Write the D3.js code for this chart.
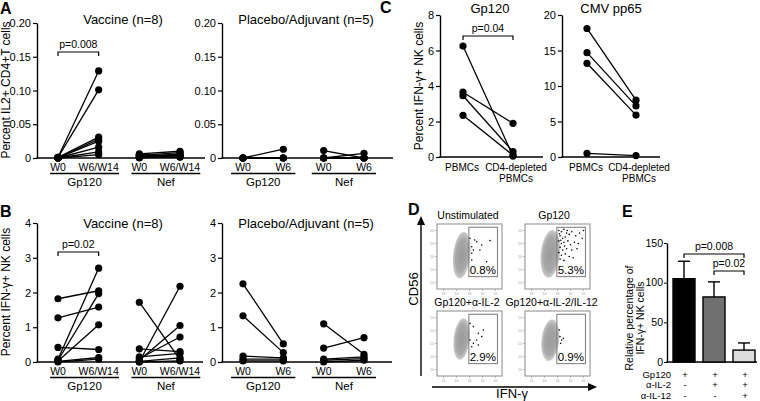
<!DOCTYPE html>
<html><head><meta charset="utf-8">
<script src="https://cdn.jsdelivr.net/npm/d3@7"></script>
<style>
body{margin:0;background:#fff;}
svg{display:block;font-family:"Liberation Sans",Arial,Helvetica,sans-serif;}
</style></head><body>
<svg id="c" width="760" height="401"></svg>
<script>
// ---------------- DATA ----------------
// Panel A (Percent IL2+ CD4+ T cells)
const pairKeys = ["Gp120-W0","Gp120-W6","Nef-W0","Nef-W6"];
const aVacLabels = ["W0","W6/W14","W0","W6/W14"];
const plLabels = ["W0","W6","W0","W6"];
const groupNames = ["Gp120","Nef"];
const aTicks = [0,0.05,0.10,0.15,0.20];
const aVacGpW0 = [0.001,0.001,0.001,0.000,0.000,0.000,0.000,0.000];
const aVacGpW6 = [0.129,0.101,0.031,0.028,0.025,0.016,0.009,0.005];
const aVacNefW0 = [0.006,0.005,0.004,0.003,0.002,0.001,0.001,0.000];
const aVacNefW6 = [0.010,0.003,0.008,0.005,0.001,0.006,0.002,0.004];
const aPlaGpW0 = [0,0,0,0,0];
const aPlaGpW6 = [0.013,0,0,0,0];
const aPlaNefW0 = [0.011,0,0,0,0];
const aPlaNefW6 = [0,0.007,0,0,0];
// Panel B (Percent IFN-g+ NK cells)
const bTicks = [0,1,2,3,4];
const bVacGpW0 = [1.82,1.27,0.42,0.08,0.05,0.03,0.02,0.00];
const bVacGpW6 = [2.05,1.58,0.36,2.70,1.97,1.07,0.13,0.08];
const bVacNefW0 = [1.72,0.00,0.05,0.10,0.38,0.15,0.02,0.00];
const bVacNefW6 = [0.07,2.18,1.05,0.72,0.30,0.25,0.12,0.03];
const bPlaGpW0 = [2.25,1.33,0.17,0.08,0.03];
const bPlaGpW6 = [0.52,0.27,0.12,0.08,0.03];
const bPlaNefW0 = [1.10,0.40,0.08,0.05,0.00];
const bPlaNefW6 = [0.22,0.70,0.15,0.10,0.05];
// Panel C
const cKeys = ["PBMCs","CD4-depleted"];
const cLabels = [["PBMCs"],["CD4-depleted","PBMCs"]];
const cGpTicks = [0,2,4,6,8];
const cCmvTicks = [0,5,10,15,20];
const cGpPB = [6.25,3.65,3.45,2.35];
const cGpCD4 = [0.05,1.90,0.30,0.10];
const cCmvPB = [18.1,14.7,13.2,0.5];
const cCmvCD4 = [8.0,7.2,5.9,0.2];
// Panel D (flow plots, log decades 0-5)
const dTitles = ["Unstimulated","Gp120","Gp120+\u03b1-IL-2","Gp120+\u03b1-IL-2/IL-12"];
const dPercents = ["0.8%","5.3%","2.9%","0.9%"];
const dCloudX = [1.9,1.95,1.9,1.95];
const dCloudY = [2.6,2.7,2.85,2.75];
const dCloudRx = [0.66,0.74,0.62,0.68];
const dCloudRy = [1.8,1.85,1.6,1.6];
const dGate = [2.45,4.65,0.95,4.75];
const dEvents = [
 [[2.54,3.9],[2.67,3.25],[2.8,3.0],[2.67,2.75],[3.05,3.64],[3.44,3.38],[4.08,3.72],[3.3,3.0],[2.67,2.23],[3.82,2.1],[2.9,3.77]],
 [[2.6,4.5],[2.8,4.4],[3.0,4.6],[3.2,4.3],[2.7,4.1],[2.9,3.9],[3.1,4.0],[3.4,4.2],[3.6,4.4],[3.9,4.1],[4.2,4.3],[4.4,3.9],[2.6,3.7],[2.8,3.5],[3.0,3.6],[3.3,3.7],[3.5,3.4],[3.8,3.6],[4.1,3.5],[2.7,3.2],[2.9,3.0],[3.2,3.1],[3.6,3.0],[4.0,3.1],[2.6,2.8],[2.8,2.6],[3.1,2.7],[3.4,2.5],[2.7,2.3],[3.0,2.2],[3.7,2.4],[2.65,4.25],[3.25,4.5],[2.75,3.75],[3.05,3.3],[4.5,4.5]],
 [[2.54,4.05],[2.8,3.8],[3.18,3.28],[2.54,2.77],[2.8,2.51],[3.05,2.77],[3.44,3.03],[3.18,2.38],[2.67,2.25],[3.56,3.54]],
 [[2.69,3.03],[2.82,2.77],[2.74,2.51],[2.95,2.9],[2.64,3.54]]
];
// Panel E
const eTicks = [0,50,100,150];
const eMeans = [105,82,15];
const eErr = [22,19,9];
const eRowLabels = ["Gp120","\u03b1-IL-2","\u03b1-IL-12"];
const eSigns = [["+","+","+"],["-","+","+"],["-","-","+"]];

// ---------------- DRAW ----------------
const svg = d3.select("#c");
const FONT = '"Liberation Sans",Arial,Helvetica,sans-serif';

const defs = svg.append("defs");
const grad = defs.append("radialGradient").attr("id","cloud");
grad.append("stop").attr("offset","0%").attr("stop-color","#9a9a9a");
grad.append("stop").attr("offset","70%").attr("stop-color","#a8a8a8");
grad.append("stop").attr("offset","100%").attr("stop-color","#cdcdcd");

function txt(x,y,str,o={}){
  const t = svg.append("text").attr("x",x).attr("y",y).text(str)
    .attr("font-size",o.size||11).attr("text-anchor",o.anchor||"middle")
    .attr("font-weight",o.weight||"normal").attr("fill",o.fill||"#000");
  if(o.rotate) t.attr("transform",`rotate(-90,${x},${y})`);
  return t;
}
function bracket(x1,x2,y,label){
  svg.append("path").attr("d",`M${x1},${y+4}V${y}H${x2}V${y+4}`)
    .attr("fill","none").attr("stroke","#000").attr("stroke-width",1.2);
  txt((x1+x2)/2,y-4,label,{size:10.5});
}

function paired(cfg){
  const y = d3.scaleLinear().domain([0,cfg.yMax]).range([cfg.yBot,cfg.yTop]);
  const x = d3.scalePoint().domain(cfg.keys).range(cfg.xRange);
  const g = svg.append("g");
  const ax = g.append("g").attr("transform",`translate(${cfg.axisX},0)`)
    .call(d3.axisLeft(y).tickValues(cfg.ticks).tickFormat(cfg.fmt).tickSize(4).tickPadding(2).tickSizeOuter(0));
  ax.attr("font-family",FONT).attr("font-size",11);
  ax.select(".domain").attr("stroke-width",1.4);
  ax.selectAll(".tick line").attr("stroke-width",1.2);
  g.append("line").attr("x1",cfg.axisX-0.7).attr("x2",cfg.xEnd).attr("y1",cfg.yBot).attr("y2",cfg.yBot)
    .attr("stroke","#000").attr("stroke-width",1.4);
  cfg.pairs.forEach(p=>{
    p.a.forEach((v,i)=>{
      g.append("line").attr("x1",x(p.from)).attr("y1",y(v)).attr("x2",x(p.to)).attr("y2",y(p.b[i]))
        .attr("stroke","#000").attr("stroke-width",1.3);
    });
  });
  cfg.pairs.forEach(p=>{
    g.selectAll(null).data(p.a).enter().append("circle").attr("cx",x(p.from)).attr("cy",d=>y(d)).attr("r",3.6);
    g.selectAll(null).data(p.b).enter().append("circle").attr("cx",x(p.to)).attr("cy",d=>y(d)).attr("r",3.6);
  });
  const labs = [];
  if(cfg.catLabels){
    cfg.keys.forEach((k,i)=>{
      const lab = cfg.catLabels[i];
      if(Array.isArray(lab)){
        lab.forEach((l,j)=>txt(x(k)+(cfg.labShift?cfg.labShift[i]:0),cfg.yBot+cfg.labDy+j*10.5,l,{size:10}));
      } else labs.push(txt(x(k),cfg.yBot+cfg.labDy,lab,{size:10.5}));
    });
  }
  if(cfg.groups){
    cfg.groups.forEach((gn,gi)=>{
      const b1 = labs[gi*2].node().getBBox(), b2 = labs[gi*2+1].node().getBBox();
      const x1 = b1.x - cfg.gPad, x2 = b2.x + b2.width + cfg.gPad;
      svg.append("line").attr("x1",x1).attr("x2",x2).attr("y1",cfg.yBot+15.5).attr("y2",cfg.yBot+15.5)
        .attr("stroke","#000").attr("stroke-width",1.3);
      txt((x1+x2)/2,cfg.yBot+28,gn,{size:11.5});
    });
  }
  if(cfg.title) txt(cfg.titleX,cfg.titleY,cfg.title,{size:13});
  return {x,y};
}

const fmtA = d=> d===0?"0":d3.format(".2f")(d);
const fmtI = d3.format("d");

// Panel A
const aV = paired({axisX:37,xEnd:205,yTop:23,yBot:158,yMax:0.2,ticks:aTicks,fmt:fmtA,keys:pairKeys,xRange:[58,180],
  pairs:[{from:"Gp120-W0",to:"Gp120-W6",a:aVacGpW0,b:aVacGpW6},{from:"Nef-W0",to:"Nef-W6",a:aVacNefW0,b:aVacNefW6}],
  catLabels:aVacLabels,labDy:13,groups:groupNames,gPad:0,title:"Vaccine (n=8)",titleX:123,titleY:24});
bracket(aV.x("Gp120-W0"),aV.x("Gp120-W6"),52,"p=0.008");
paired({axisX:222,xEnd:393,yTop:23,yBot:158,yMax:0.2,ticks:aTicks,fmt:fmtA,keys:pairKeys,xRange:[243,364],
  pairs:[{from:"Gp120-W0",to:"Gp120-W6",a:aPlaGpW0,b:aPlaGpW6},{from:"Nef-W0",to:"Nef-W6",a:aPlaNefW0,b:aPlaNefW6}],
  catLabels:plLabels,labDy:13,groups:groupNames,gPad:4,title:"Placebo/Adjuvant (n=5)",titleX:306,titleY:24});
txt(10,90,"Percent IL2+ CD4+T cells",{size:12,rotate:true});
txt(0,14,"A",{size:16,weight:"bold",anchor:"start"});

// Panel B
const bV = paired({axisX:37,xEnd:203,yTop:223,yBot:362,yMax:4,ticks:bTicks,fmt:fmtI,keys:pairKeys,xRange:[58,180],
  pairs:[{from:"Gp120-W0",to:"Gp120-W6",a:bVacGpW0,b:bVacGpW6},{from:"Nef-W0",to:"Nef-W6",a:bVacNefW0,b:bVacNefW6}],
  catLabels:aVacLabels,labDy:12.5,groups:groupNames,gPad:0,title:"Vaccine (n=8)",titleX:123,titleY:228});
bracket(bV.x("Gp120-W0"),bV.x("Gp120-W6"),252,"p=0.02");
paired({axisX:222,xEnd:392,yTop:223,yBot:362,yMax:4,ticks:bTicks,fmt:fmtI,keys:pairKeys,xRange:[243,364],
  pairs:[{from:"Gp120-W0",to:"Gp120-W6",a:bPlaGpW0,b:bPlaGpW6},{from:"Nef-W0",to:"Nef-W6",a:bPlaNefW0,b:bPlaNefW6}],
  catLabels:plLabels,labDy:12.5,groups:groupNames,gPad:4,title:"Placebo/Adjuvant (n=5)",titleX:306,titleY:228});
txt(10,292,"Percent IFN-\u03b3+ NK cells",{size:12,rotate:true});
txt(0,217,"B",{size:16,weight:"bold",anchor:"start"});

// Panel C
const cG = paired({axisX:440,xEnd:543,yTop:15,yBot:157,yMax:8,ticks:cGpTicks,fmt:fmtI,keys:cKeys,xRange:[463,513],
  pairs:[{from:"PBMCs",to:"CD4-depleted",a:cGpPB,b:cGpCD4}],catLabels:cLabels,labDy:14,labShift:[-1,3],
  title:"Gp120",titleX:490,titleY:12.5});
bracket(cG.x("PBMCs"),cG.x("CD4-depleted"),36,"p=0.04");
paired({axisX:562,xEnd:660,yTop:15,yBot:157,yMax:20,ticks:cCmvTicks,fmt:fmtI,keys:cKeys,xRange:[587,636],
  pairs:[{from:"PBMCs",to:"CD4-depleted",a:cCmvPB,b:cCmvCD4}],catLabels:cLabels,labDy:14,labShift:[-1,3],
  title:"CMV pp65",titleX:611,titleY:12.5});
txt(423,86,"Percent IFN-\u03b3+ NK cells",{size:12,rotate:true});
txt(380,13,"C",{size:16,weight:"bold",anchor:"start"});

// Panel D
const boxes = [[437,224],[525,224],[437,311],[525,311]];
const titleShift = [-1.5,-3.5,-2.5,-6];
const BW = 65;
boxes.forEach((b,i)=>{
  const fx = d3.scaleLinear().domain([0,5]).range([b[0],b[0]+BW]);
  const fy = d3.scaleLinear().domain([0,5]).range([b[1]+BW,b[1]]);
  const g = svg.append("g");
  g.append("rect").attr("x",b[0]).attr("y",b[1]).attr("width",BW).attr("height",BW)
    .attr("fill","none").attr("stroke","#8a8a8a").attr("stroke-width",1);
  [0.5,1.5,2.5,3.5,4.5].forEach(t=>{
    g.append("line").attr("x1",fx(t)).attr("x2",fx(t)).attr("y1",b[1]+BW).attr("y2",b[1]+BW+2).attr("stroke","#999").attr("stroke-width",0.7);
    g.append("line").attr("y1",fy(t)).attr("y2",fy(t)).attr("x1",b[0]).attr("x2",b[0]-2).attr("stroke","#999").attr("stroke-width",0.7);
    g.append("text").attr("x",fx(t)).attr("y",b[1]+BW+6).attr("font-size",3.5).attr("fill","#999").attr("text-anchor","middle").text("10");
    g.append("text").attr("x",b[0]-3).attr("y",fy(t)+1).attr("font-size",3.5).attr("fill","#999").attr("text-anchor","end").text("10");
  });
  const cx=fx(dCloudX[i]), cy=fy(dCloudY[i]);
  const rx=fx(dCloudRx[i])-fx(0), ry=fy(0)-fy(dCloudRy[i]);
  g.append("ellipse").attr("cx",cx).attr("cy",cy).attr("rx",rx).attr("ry",ry)
    .attr("fill","url(#cloud)").attr("transform",`rotate(6,${cx},${cy})`);
  g.append("rect").attr("x",fx(dGate[0])).attr("y",fy(dGate[3])).attr("width",fx(dGate[1])-fx(dGate[0]))
    .attr("height",fy(dGate[2])-fy(dGate[3])).attr("fill","none").attr("stroke","#7a7a7a").attr("stroke-width",1);
  g.selectAll(null).data(dEvents[i]).enter().append("circle")
    .attr("cx",d=>fx(d[0])).attr("cy",d=>fy(d[1])).attr("r",0.8).attr("fill","#000");
  txt(fx(dGate[1])-1.5,fy(dGate[2])-2.5,dPercents[i],{size:11.5,anchor:"end"});
  txt(b[0]+BW/2+titleShift[i],b[1]-5.5,dTitles[i],{size:10.5});
});
svg.append("line").attr("x1",421).attr("x2",421).attr("y1",376).attr("y2",222).attr("stroke","#000").attr("stroke-width",1.4);
svg.append("path").attr("d","M417,225L421,216L425,225Z").attr("fill","#000");
svg.append("line").attr("x1",432).attr("x2",590).attr("y1",387).attr("y2",387).attr("stroke","#000").attr("stroke-width",1.4);
svg.append("path").attr("d","M588,383L597,387L588,391Z").attr("fill","#000");
txt(418,289,"CD56",{size:13,rotate:true});
txt(512,398,"IFN-\u03b3",{size:13});
txt(408,215,"D",{size:16,weight:"bold",anchor:"start"});

// Panel E
const ey = d3.scaleLinear().domain([0,150]).range([362,243]);
const ex = d3.scalePoint().domain([0,1,2]).range([684,744]);
const eFill = ["#000","#707070","#dcdcdc"];
const eg = svg.append("g");
const eax = eg.append("g").attr("transform","translate(667,0)")
  .call(d3.axisLeft(ey).tickValues(eTicks).tickSize(3).tickPadding(1).tickSizeOuter(0));
eax.attr("font-family",FONT).attr("font-size",10.5);
eax.select(".domain").attr("stroke-width",1.4);
eax.selectAll(".tick text").attr("dy","0.3em");
eg.append("line").attr("x1",666.3).attr("x2",757).attr("y1",362).attr("y2",362).attr("stroke","#000").attr("stroke-width",1.4);
eMeans.forEach((m,i)=>{
  const cx = ex(i);
  eg.append("line").attr("x1",cx).attr("x2",cx).attr("y1",ey(m)).attr("y2",ey(m+eErr[i])).attr("stroke","#000").attr("stroke-width",1.4);
  eg.append("line").attr("x1",cx-6).attr("x2",cx+6).attr("y1",ey(m+eErr[i])).attr("y2",ey(m+eErr[i])).attr("stroke","#000").attr("stroke-width",1.4);
  eg.append("rect").attr("x",cx-11).attr("y",ey(m)).attr("width",22).attr("height",ey(0)-ey(m))
    .attr("fill",eFill[i]).attr("stroke","#000").attr("stroke-width",1.4);
});
bracket(ex(0),ex(2),254,"p=0.008");
bracket(ex(1),ex(2),271,"p=0.02");
eRowLabels.forEach((l,r)=>{
  const yy = 377.5+r*10.7;
  txt(671,yy,l,{size:9.5,anchor:"end"});
  eSigns[r].forEach((s,i)=>txt(ex(i)+1,yy,s,{size:9.5}));
});
txt(633,318,"Relative percentage of",{size:10.5,rotate:true});
txt(644,318,"IFN-\u03b3+ NK cells",{size:10.5,rotate:true});
txt(622,217,"E",{size:16,weight:"bold",anchor:"start"});
</script>
</body></html>
